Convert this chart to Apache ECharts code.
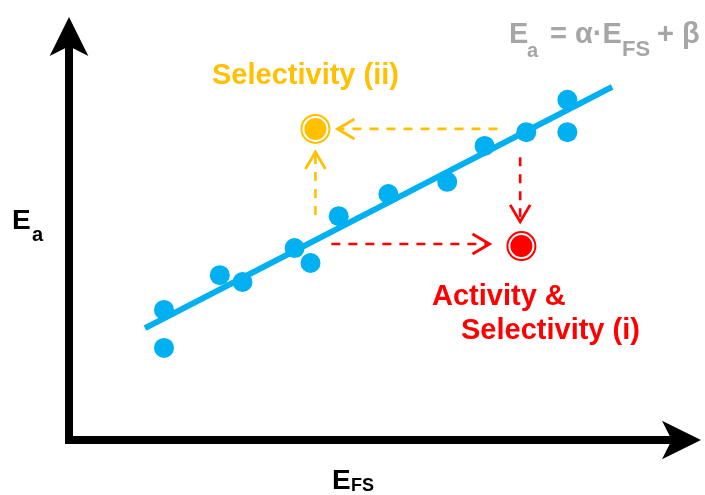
<!DOCTYPE html>
<html>
<head>
<meta charset="utf-8">
<script src="https://cdn.jsdelivr.net/npm/echarts@6/dist/echarts.min.js"></script>
<style>
  html, body { margin: 0; padding: 0; background: #fff; }
  #chart { width: 705px; height: 495px; }
</style>
</head>
<body>
<div id="chart"></div>
<script>
// Measured activation energies (y) against final-state energies (x), arbitrary units
const efsValues = [15.5, 15.5, 24.6, 28.3, 36.8, 39.4, 44.0, 52.1, 61.7, 67.8, 74.6, 81.3, 81.3];
const eaValues  = [32.2, 22.8, 40.8, 39.1, 47.5, 43.8, 55.4, 60.9, 63.9, 72.8, 76.2, 84.2, 76.2];

// Linear scaling relation Ea = α·EFS + β, drawn between two end points
const fitX = [12.4, 88.6];
const fitY = [27.7, 87.4];

// Target catalysts
const selectivityPoint = [40.2, 77.0];          // Selectivity (ii)
const activityPoint = [73.8, 48.0];             // Activity & Selectivity (i)

// Dashed guide arrows: [fromX, fromY, toX, toY]
const yellowArrows = [
  [69.9, 77.0, 43.8, 77.0],
  [40.2, 55.7, 40.2, 71.3]
];
const redArrows = [
  [42.8, 48.5, 68.6, 48.5],
  [73.6, 70.0, 73.6, 54.0]
];

const BLUE = '#00B0F0';
const YELLOW = '#FFC000';
const RED = '#FF0000';
const GREY = '#A6A6A6';
const FONT = '"Liberation Sans", Arial, sans-serif';

function arrowRenderer(color) {
  return function (params, api) {
    const p1 = api.coord([api.value(0), api.value(1)]);
    const p2 = api.coord([api.value(2), api.value(3)]);
    const dx = p2[0] - p1[0], dy = p2[1] - p1[1];
    const len = Math.sqrt(dx * dx + dy * dy);
    const ux = dx / len, uy = dy / len;
    const nx = -uy, ny = ux;
    const back = 17, half = 10;
    const bx = p2[0] - ux * back, by = p2[1] - uy * back;
    return {
      type: 'group',
      children: [
        {
          type: 'line',
          shape: { x1: p1[0], y1: p1[1], x2: p2[0] - ux * 3, y2: p2[1] - uy * 3 },
          style: { stroke: color, lineWidth: 2.6, lineDash: [9, 8], fill: null }
        },
        {
          type: 'polyline',
          shape: { points: [[bx + nx * half, by + ny * half], p2, [bx - nx * half, by - ny * half]] },
          style: { stroke: color, lineWidth: 2.8, fill: null }
        }
      ]
    };
  };
}

const chart = echarts.init(document.getElementById('chart'), null, { renderer: 'canvas' });

function txt(text, x, y, size, color, weight) {
  return {
    type: 'text',
    x: x, y: y,
    style: {
      text: text,
      font: (weight || 'bold') + ' ' + size + 'px ' + FONT,
      fill: color,
      align: 'left', verticalAlign: 'middle',
      textAlign: 'left', textVerticalAlign: 'middle'
    },
    z: 20
  };
}

const axisCommon = {
  type: 'value',
  min: 0,
  max: 100,
  splitLine: { show: false },
  axisTick: { show: false },
  axisLabel: { show: false },
  axisLine: {
    show: true,
    symbol: ['none', 'arrow'],
    symbolSize: [29, 39],
    symbolOffset: [0, 19],
    lineStyle: { color: '#000', width: 8, cap: 'square' }
  }
};

chart.setOption({
  animation: false,
  backgroundColor: '#fff',
  grid: { left: 69, right: 23, top: 36, bottom: 55 },
  xAxis: axisCommon,
  yAxis: axisCommon,
  graphic: [
    // Axis titles
    txt('E', 12, 221, 28, '#000'),
    txt('a', 32, 235, 20, '#000'),
    txt('E', 332, 481, 28, '#000'),
    txt('FS', 351, 486, 18, '#000'),
    // Scaling relation
    txt('E', 509, 35, 29, GREY),
    txt('a', 527, 51, 20, GREY),
    txt('= α·E', 550, 35, 29, GREY),
    txt('FS', 622, 50, 22, GREY),
    txt('+ β', 657, 35, 29, GREY),
    // Annotations
    txt('Selectivity (ii)', 212, 76, 29, YELLOW),
    txt('Activity &', 432, 297, 29, RED),
    txt('Selectivity (i)', 461, 331, 29, RED)
  ],
  series: [
    {
      type: 'line',
      data: fitX.map((x, i) => [x, fitY[i]]),
      symbol: 'none',
      lineStyle: { color: BLUE, width: 6, cap: 'butt' },
      z: 2
    },
    {
      type: 'scatter',
      data: efsValues.map((x, i) => [x, eaValues[i]]),
      symbol: 'circle',
      symbolSize: 20,
      itemStyle: { color: BLUE, opacity: 1 },
      z: 3
    },
    {
      type: 'custom',
      data: yellowArrows,
      encode: { x: [0, 2], y: [1, 3] },
      renderItem: arrowRenderer(YELLOW),
      z: 4
    },
    {
      type: 'custom',
      data: redArrows,
      encode: { x: [0, 2], y: [1, 3] },
      renderItem: arrowRenderer(RED),
      z: 4
    },
    // Outer rings of the highlighted catalysts
    {
      type: 'scatter',
      data: [selectivityPoint],
      symbolSize: 30,
      itemStyle: { color: YELLOW, opacity: 1 },
      z: 5
    },
    {
      type: 'scatter',
      data: [activityPoint],
      symbolSize: 30,
      itemStyle: { color: RED, opacity: 1 },
      z: 5
    },
    {
      type: 'scatter',
      data: [selectivityPoint],
      symbolSize: 24,
      itemStyle: { color: YELLOW, borderColor: '#fff', borderWidth: 2, opacity: 1 },
      z: 6
    },
    {
      type: 'scatter',
      data: [activityPoint],
      symbolSize: 24,
      itemStyle: { color: RED, borderColor: '#fff', borderWidth: 2, opacity: 1 },
      z: 6
    }
  ]
});
</script>
</body>
</html>
